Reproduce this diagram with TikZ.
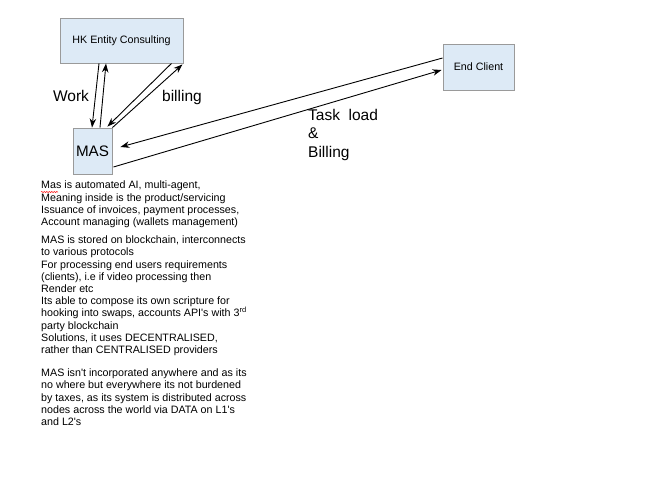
\documentclass[tikz,border=0pt]{standalone}
\usepackage{fontspec}
\setmainfont{Liberation Sans}
\usetikzlibrary{arrows.meta,decorations.pathmorphing}

\definecolor{boxfill}{HTML}{DDEAF6}
\definecolor{boxline}{HTML}{9A9A9A}
\newcommand{\ap}{\textquotesingle}

\tikzset{
  entity/.style={draw=boxline, fill=boxfill, line width=0.9pt, inner sep=0pt},
  flow/.style={-{Stealth[length=9pt,width=6.5pt]}, line width=0.9pt},
  biglabel/.style={font=\fontsize{15.5}{18.5}\selectfont, inner sep=0pt}
}

\begin{document}
\begin{tikzpicture}[x=1pt, y=-1pt]
  \useasboundingbox (0,0) rectangle (660,480);

  % Boxes
  \node[entity, minimum width=123pt, minimum height=45pt,
        font=\fontsize{10.7}{12}\selectfont] (hk) at (121.5,40.5) {HK Entity Consulting};
  \node[entity, minimum width=39pt, minimum height=46pt,
        font=\fontsize{15.2}{18}\selectfont] (mas) at (92.5,151) {MAS};
  \node[entity, minimum width=71pt, minimum height=46pt,
        font=\fontsize{10.7}{12}\selectfont] (client) at (478.5,67) {End Client};

  % Work
  \draw[flow] ([xshift=-22.5pt]hk.south) -- ([xshift=-0.5pt]mas.north);
  \draw[flow] ([xshift=7.5pt]mas.north) -- ([xshift=-15.5pt]hk.south);
  \node[biglabel] (work) at (71,96) {Work};

  % billing
  \draw[flow] ([xshift=-12pt]hk.south east) -- ([xshift=-5pt,yshift=1pt]mas.north east);
  \draw[flow] (mas.north east) -- ([xshift=-1pt,yshift=-1pt]hk.south east);
  \node[biglabel] (billing) at (182,97) {billing};

  % Task load & Billing
  \draw[flow] ([yshift=9pt]client.west) -- ([xshift=8pt,yshift=4pt]mas.east);
  \draw[flow] ([xshift=1pt,yshift=-16pt]mas.east) -- ([xshift=-1pt,yshift=-3pt]client.west);
  \node[biglabel, anchor=north west, align=left] (task) at (308,109)
    {Task\ \ load\\\&\\Billing};

  % Notes
  \node[anchor=north west, align=left, inner sep=0pt,
        font=\fontsize{10.7}{12.2}\selectfont] (notes) at (41,181)
    {Mas is automated AI, multi-agent,\\
     Meaning inside is the product/servicing\\
     Issuance of invoices, payment processes,\\
     Account managing (wallets management)\\[6pt]
     MAS is stored on blockchain, interconnects\\
     to various protocols\\
     For processing end users requirements\\
     (clients), i.e if video processing then\\
     Render etc\\
     Its able to compose its own scripture for\\
     hooking into swaps, accounts API\ap s with 3\textsuperscript{rd}\\
     party blockchain\\
     Solutions, it uses DECENTRALISED,\\
     rather than CENTRALISED providers\\[11pt]
     MAS isn\ap t incorporated anywhere and as its\\
     no where but everywhere its not burdened\\
     by taxes, as its system is distributed across\\
     nodes across the world via DATA on L1\ap s\\
     and L2\ap s};

  % spelling mark under Mas
  \draw[red, line width=0.5pt, decorate,
        decoration={snake, amplitude=0.6pt, segment length=2.5pt}]
    ([yshift=-11pt]notes.north west) -- ([xshift=17pt,yshift=-11pt]notes.north west);
\end{tikzpicture}
\end{document}
